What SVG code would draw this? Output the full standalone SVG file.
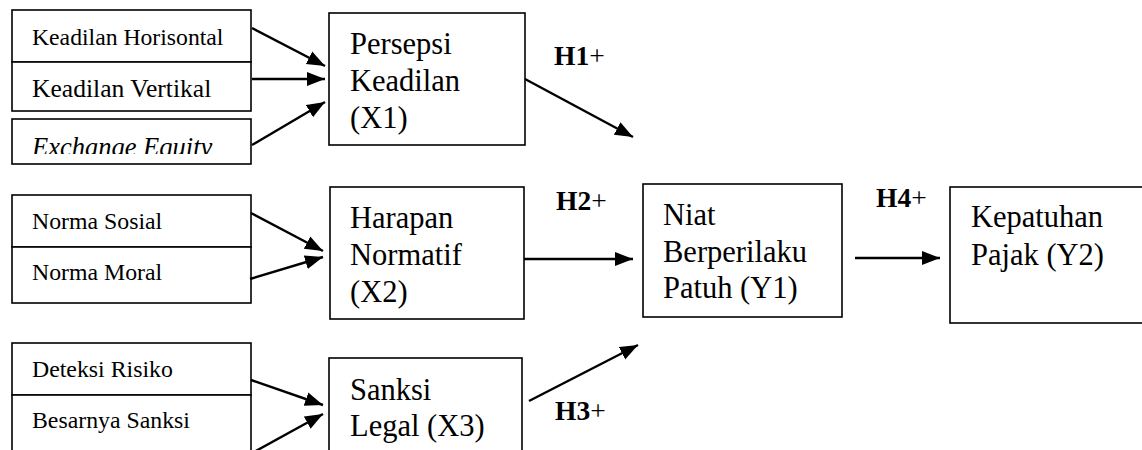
<svg xmlns="http://www.w3.org/2000/svg" width="1142" height="450" viewBox="0 0 1142 450">
<style>
.box{fill:#fff;stroke:#000;stroke-width:1.6}
text{font-family:'Liberation Serif',serif;fill:#000}
.big{font-size:30.5px}
.sm{font-size:23.8px}
.h{font-size:27.5px}
.b{font-weight:bold}
.c{stroke:#000;stroke-width:2.4;fill:none;marker-end:url(#ah)}
</style>
<defs>
<marker id="ah" markerUnits="userSpaceOnUse" markerWidth="20" markerHeight="16" refX="18" refY="8" orient="auto">
<path d="M0,1 L18,8 L0,15 Z" fill="#000"/>
</marker>
<clipPath id="clipEx"><rect x="12" y="119" width="239" height="35"/></clipPath>
</defs>
<rect width="1142" height="450" fill="#fff"/>

<g id="keadilan-horisontal">
<rect class="box" x="12" y="10" width="239" height="52"/>
<text x="32" y="45" font-size="23.7">Keadilan Horisontal</text>
</g>
<g id="keadilan-vertikal">
<rect class="box" x="12" y="62" width="239" height="49"/>
<text x="32" y="97" font-size="25.6">Keadilan Vertikal</text>
</g>
<g id="exchange-equity">
<rect class="box" x="12" y="119" width="239" height="45"/>
<text x="32" y="156" font-size="26.5" font-style="italic" clip-path="url(#clipEx)">Exchange Equity</text>
</g>

<g id="persepsi-keadilan">
<rect class="box" x="329" y="13" width="196" height="132"/>
<text class="big" x="350" y="54">Persepsi</text>
<text class="big" x="350" y="91">Keadilan</text>
<text class="big" x="350" y="128">(X1)</text>
</g>

<g id="norma-sosial">
<rect class="box" x="12" y="195" width="239" height="52"/>
<text class="sm" x="32" y="229">Norma Sosial</text>
</g>
<g id="norma-moral">
<rect class="box" x="12" y="247" width="239" height="56"/>
<text class="sm" x="32" y="280">Norma Moral</text>
</g>

<g id="harapan-normatif">
<rect class="box" x="330" y="187" width="194" height="132"/>
<text class="big" x="350" y="228">Harapan</text>
<text class="big" x="350" y="265">Normatif</text>
<text class="big" x="350" y="302">(X2)</text>
</g>

<g id="deteksi-risiko">
<rect class="box" x="12" y="343" width="239" height="52"/>
<text class="sm" x="32" y="377">Deteksi Risiko</text>
</g>
<g id="besarnya-sanksi">
<rect class="box" x="12" y="395" width="239" height="70"/>
<text class="sm" x="32" y="428">Besarnya Sanksi</text>
</g>

<g id="sanksi-legal">
<rect class="box" x="329" y="358" width="193" height="110"/>
<text class="big" x="350" y="400">Sanksi</text>
<text class="big" x="350" y="436">Legal (X3)</text>
</g>

<g id="niat-berperilaku">
<rect class="box" x="643" y="184" width="199" height="133"/>
<text class="big" x="663" y="225">Niat</text>
<text class="big" x="663" y="262">Berperilaku</text>
<text class="big" x="663" y="298">Patuh (Y1)</text>
</g>

<g id="kepatuhan-pajak">
<rect class="box" x="950" y="187" width="200" height="136"/>
<text class="big" x="971" y="227">Kepatuhan</text>
<text class="big" x="971" y="265">Pajak (Y2)</text>
</g>

<g id="labels">
<text class="h" x="554" y="65"><tspan class="b">H1</tspan>+</text>
<text class="h" x="556" y="210"><tspan class="b">H2</tspan>+</text>
<text class="h" x="555" y="420"><tspan class="b">H3</tspan>+</text>
<text class="h" x="876" y="207"><tspan class="b">H4</tspan>+</text>
</g>

<g id="connectors">
<line class="c" x1="252" y1="28" x2="325" y2="66"/>
<line class="c" x1="252" y1="79" x2="325" y2="79"/>
<line class="c" x1="252" y1="145" x2="325" y2="102"/>
<line class="c" x1="251" y1="213" x2="323" y2="251"/>
<line class="c" x1="250" y1="279" x2="323" y2="257"/>
<line class="c" x1="251" y1="380" x2="323" y2="405"/>
<line class="c" x1="254" y1="452" x2="323" y2="414"/>
<line class="c" x1="525" y1="79" x2="633" y2="137"/>
<line class="c" x1="524" y1="259" x2="633" y2="259"/>
<line class="c" x1="529" y1="401" x2="638" y2="345"/>
<line class="c" x1="855" y1="258" x2="940" y2="258"/>
</g>
</svg>
